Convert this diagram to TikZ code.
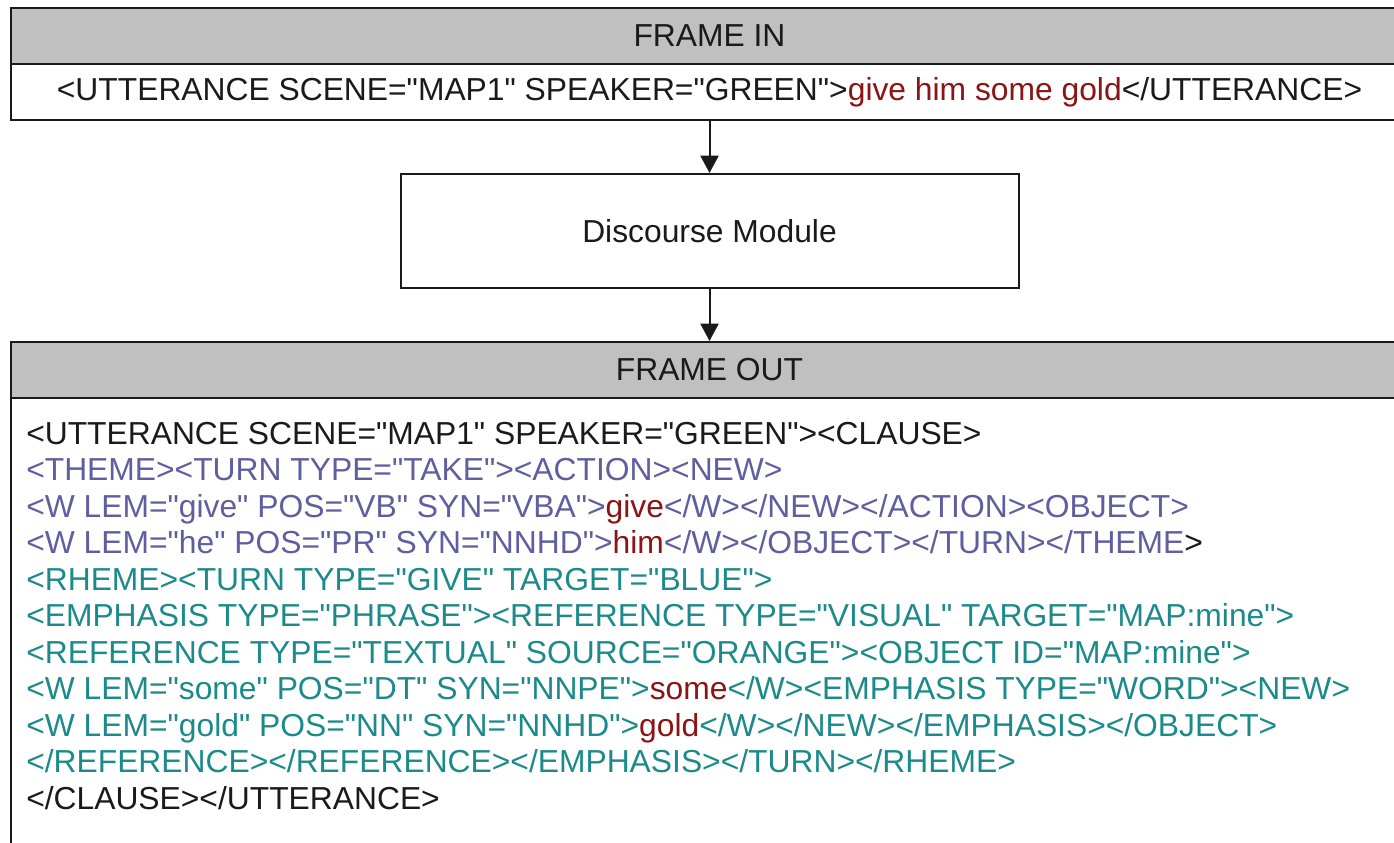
\documentclass[tikz,border=0pt]{standalone}
\usepackage{fontspec}
\setmainfont{Liberation Sans}[Ligatures=TeXOff]
\usetikzlibrary{arrows.meta}
\definecolor{xblk}{HTML}{1A1A1A}
\definecolor{xblue}{HTML}{5F5FA0}
\definecolor{xteal}{HTML}{1C8A8A}
\definecolor{xred}{HTML}{8B1414}
\definecolor{hdr}{HTML}{C0C0C0}
\newcommand\xb[1]{\textcolor{xblue}{#1}}
\newcommand\xt[1]{\textcolor{xteal}{#1}}
\newcommand\xr[1]{\textcolor{xred}{#1}}
\begin{document}
\begin{tikzpicture}[x=0.75pt,y=-0.75pt,
  box/.style={draw=xblk,line width=1.5pt,inner sep=0pt,outer sep=0pt,font=\fontsize{23.85}{27}\selectfont,text=xblk},
  hdrbox/.style={box,fill=hdr,minimum width={1397*0.75pt},minimum height={56*0.75pt}},
  rowbox/.style={box,fill=white,minimum width={1397*0.75pt},minimum height={56*0.75pt}},
  xline/.style={anchor=base west,inner sep=0pt,font=\fontsize{23.85}{27}\selectfont,text=xblk},
  conn/.style={draw=xblk,line width=1.5pt,shorten >=0.75pt,shorten <=0.75pt,-{Triangle[length=13pt,width=13.5pt]}}]
\useasboundingbox (0,0) rectangle (1394,842);
\clip (0,0) rectangle (1394,842);
\node[hdrbox] (fin) at (709.5,36) {FRAME IN};
\node[rowbox] (fintext) at (709.5,92) {<UTTERANCE SCENE="MAP1" SPEAKER="GREEN">\xr{give him some gold}</UTTERANCE>};
\node[box,minimum width={618*0.75pt},minimum height={114*0.75pt}] (dm) at (709.5,231) {Discourse Module};
\node[hdrbox] (fout) at (709.5,370) {FRAME OUT};
\node[box,anchor=north,minimum width={1397*0.75pt},minimum height={470*0.75pt}] (body) at (fout.south) {};
\draw[conn] (fintext.south) -- (dm.north);
\draw[conn] (dm.south) -- (fout.north);
\node[xline] (l1) at (26,444) {<UTTERANCE SCENE="MAP1" SPEAKER="GREEN"><CLAUSE>};
\node[xline] (l2) at (26,480.5) {\xb{<THEME><TURN TYPE="TAKE"><ACTION><NEW>}};
\node[xline] (l3) at (26,517) {\xb{<W LEM="give" POS="VB" SYN="VBA">}\xr{give}\xb{</W></NEW></ACTION><OBJECT>}};
\node[xline] (l4) at (26,553.5) {\xb{<W LEM="he" POS="PR" SYN="NNHD">}\xr{him}\xb{</W></OBJECT></TURN></THEME}>};
\node[xline] (l5) at (26,590) {\xt{<RHEME><TURN TYPE="GIVE" TARGET="BLUE">}};
\node[xline] (l6) at (26,626.5) {\xt{<EMPHASIS TYPE="PHRASE"><REFERENCE TYPE="VISUAL" TARGET="MAP:mine">}};
\node[xline] (l7) at (26,663) {\xt{<REFERENCE TYPE="TEXTUAL" SOURCE="ORANGE"><OBJECT ID="MAP:mine">}};
\node[xline] (l8) at (26,699.5) {\xt{<W LEM="some" POS="DT" SYN="NNPE">}\xr{some}\xt{</W><EMPHASIS TYPE="WORD"><NEW>}};
\node[xline] (l9) at (26,736) {\xt{<W LEM="gold" POS="NN" SYN="NNHD">}\xr{gold}\xt{</W></NEW></EMPHASIS></OBJECT>}};
\node[xline] (l10) at (26,772.5) {\xt{</REFERENCE></REFERENCE></EMPHASIS></TURN></RHEME>}};
\node[xline] (l11) at (26,809) {</CLAUSE></UTTERANCE>};
\end{tikzpicture}
\end{document}
